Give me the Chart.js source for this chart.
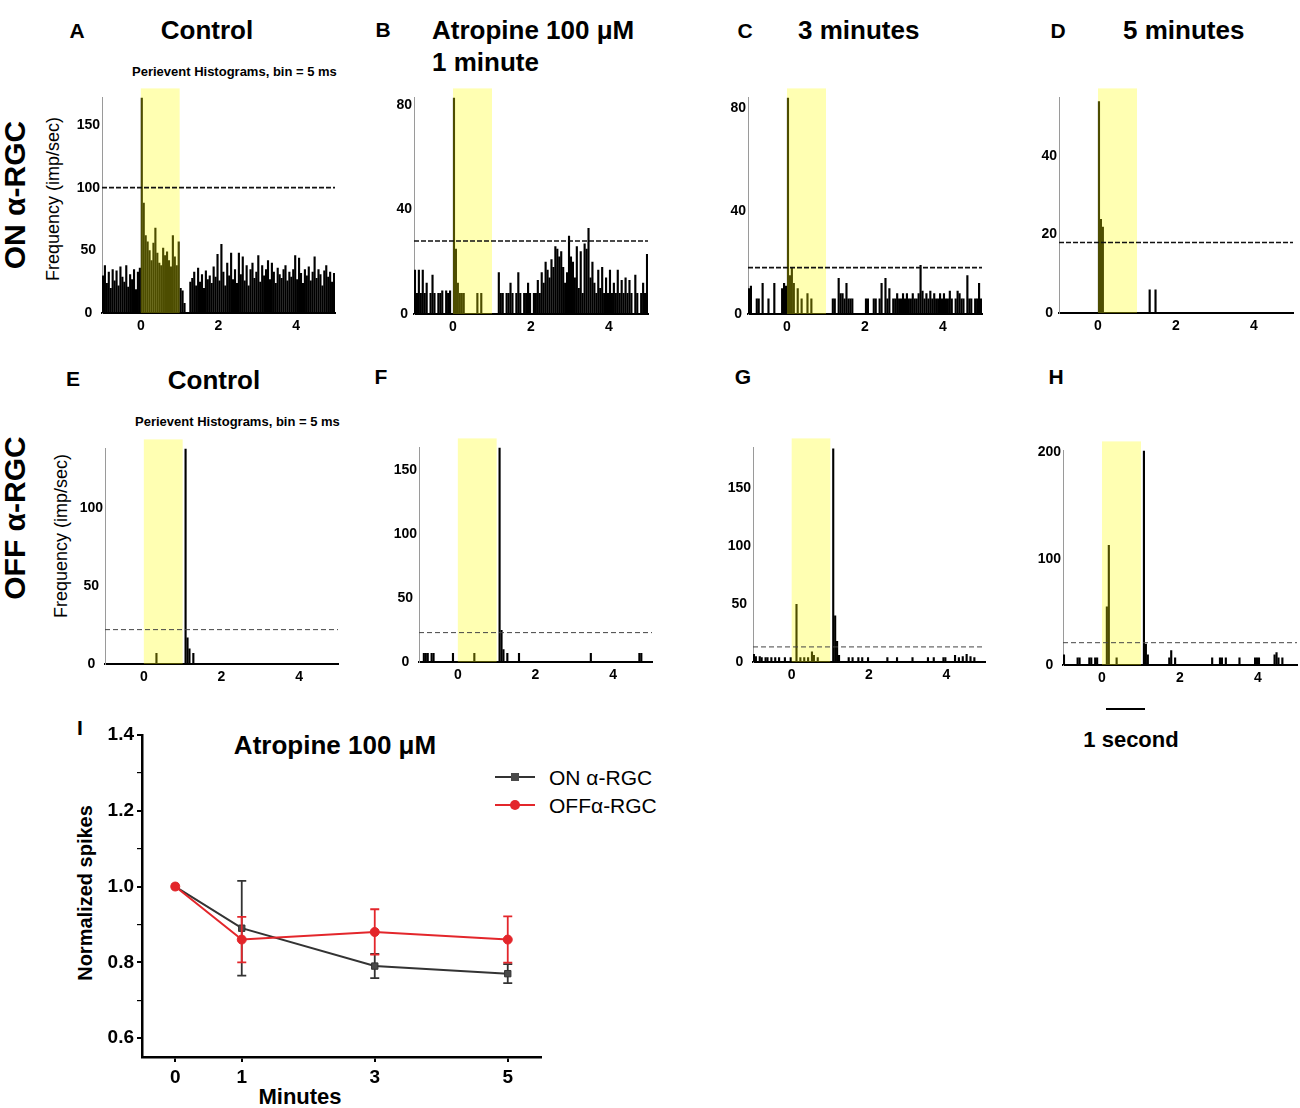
<!DOCTYPE html>
<html>
<head>
<meta charset="utf-8">
<script src="https://cdn.jsdelivr.net/npm/chart.js@4.4.1/dist/chart.umd.min.js"></script>
<style>
  body { margin: 0; background: #fff; font-family: 'Liberation Sans', Arial, Helvetica, sans-serif; }
  #page { position: relative; width: 1300px; height: 1108px; overflow: hidden; background: #fff; }
  canvas { position: absolute; }
  .t { position: absolute; white-space: nowrap; color: #000; line-height: 1; }
  .c { transform: translate(-50%, -50%); }
  .l { transform: translateY(-50%); }
  .v { transform: translate(-50%, -50%) rotate(-90deg); }
  .lab { font-weight: bold; font-size: 21px; }
  .ttl { font-weight: bold; font-size: 26px; }
  .sub { font-weight: bold; font-size: 13px; }
  .row { font-weight: bold; font-size: 30px; }
  .freq { font-size: 18px; }
  .leg { position: absolute; height: 2px; width: 40px; }
  .mk { position: absolute; }
</style>
</head>
<body>
<div id="page">
  <!-- top row titles -->
  <div class="t c lab" style="left:77px;top:30px">A</div>
  <div class="t c ttl" style="left:207px;top:30px">Control</div>
  <div class="t l sub" style="left:132px;top:71px">Perievent Histograms, bin = 5 ms</div>
  <div class="t c lab" style="left:383px;top:29px">B</div>
  <div class="t l ttl" style="left:432px;top:30px">Atropine 100 μM</div>
  <div class="t l ttl" style="left:432px;top:62px">1 minute</div>
  <div class="t c lab" style="left:745px;top:30px">C</div>
  <div class="t l ttl" style="left:798px;top:30px">3 minutes</div>
  <div class="t c lab" style="left:1058px;top:30px">D</div>
  <div class="t l ttl" style="left:1123px;top:30px">5 minutes</div>
  <div class="t v row" style="left:15px;top:195px">ON α-RGC</div>
  <div class="t v freq" style="left:53px;top:199px">Frequency (imp/sec)</div>

  <!-- bottom row titles -->
  <div class="t c lab" style="left:73px;top:378px">E</div>
  <div class="t c ttl" style="left:214px;top:380px">Control</div>
  <div class="t l sub" style="left:135px;top:421px">Perievent Histograms, bin = 5 ms</div>
  <div class="t c lab" style="left:381px;top:376px">F</div>
  <div class="t c lab" style="left:743px;top:376px">G</div>
  <div class="t c lab" style="left:1056px;top:376px">H</div>
  <div class="t v row" style="left:15px;top:518px">OFF α-RGC</div>
  <div class="t v freq" style="left:61px;top:536px">Frequency (imp/sec)</div>

  <!-- scale bar -->
  <div style="position:absolute;left:1106px;top:708px;width:39px;height:2px;background:#000"></div>
  <div class="t c" style="left:1131px;top:740px;font-weight:bold;font-size:22px">1 second</div>

  <!-- summary panel texts -->
  <div class="t c lab" style="left:80px;top:727px">I</div>
  <div class="t c ttl" style="left:335px;top:745px">Atropine 100 μM</div>
  <div class="t v" style="left:85px;top:893px;font-weight:bold;font-size:20px">Normalized spikes</div>
  <div class="t c" style="left:300px;top:1097px;font-weight:bold;font-size:22px">Minutes</div>
  <div class="leg" style="left:495px;top:776px;background:#333"></div>
  <div class="mk" style="left:511px;top:773px;width:8px;height:8px;background:#4a4a4a"></div>
  <div class="t l" style="left:549px;top:777px;font-size:21px">ON α-RGC</div>
  <div class="leg" style="left:495px;top:804px;background:#e3262b"></div>
  <div class="mk" style="left:510px;top:800px;width:10px;height:10px;border-radius:50%;background:#e3262b"></div>
  <div class="t l" style="left:549px;top:805px;font-size:21px">OFFα-RGC</div>
</div>

<script>
Chart.defaults.font.family = "'Liberation Sans', Arial, Helvetica, sans-serif";
Chart.defaults.color = '#000';

// histogram bins (seconds), counts
const binStart = -1;
const binWidth = 0.05;
const binCount = 120;
const timeTicks = [0, 2, 4];
const stimulusOn = 0;
const stimulusOff = 1;

// ON alpha-RGC: control, 1, 3 min atropine (one value per bin, from -1 s)
const onControl = [
  30, 38, 24, 33, 20, 35, 26, 34, 22, 37, 29, 25, 38, 21, 31, 27, 35, 19, 33, 36,
  172, 88, 62, 57, 50, 42, 56, 68, 48, 40, 38, 52, 46, 49, 42, 37, 62, 45, 38, 57,
  20, 18, 8, 0, 0, 25,
  28, 33, 22, 36, 25, 31, 20, 34, 27, 30,
  24, 37, 29, 47, 26, 55, 33, 22, 40, 30,
  48, 27, 35, 24, 48, 31, 45, 26, 38, 22,
  35, 40, 28, 33, 46, 25, 38, 30, 35, 42,
  27, 40, 33, 24, 36, 31, 28, 35, 38, 26,
  33, 29, 35, 46, 27, 44, 32, 24, 35, 30,
  37, 26, 33, 45, 28, 35, 31, 22, 34, 38,
  29, 33, 25, 32
];
const onMin1 = [
  17, 8, 17, 8, 17, 8, 12, 0, 8, 15, 8, 0, 8, 8, 9, 0, 9, 8, 9, 0,
  83, 25, 12, 8, 8, 8, 0, 0, 0, 0, 0, 0, 8, 0, 8, 0, 0, 0, 0, 0,
  0, 0, 0, 16, 8, 8, 0, 8, 8, 12,
  8, 0, 8, 16, 8, 0, 8, 8, 12, 8,
  0, 8, 8, 13, 8, 16, 12, 20, 17, 14,
  21, 18, 26, 25, 22, 24, 18, 12, 16, 30,
  22, 20, 14, 26, 10, 24, 8, 27, 25, 33,
  14, 20, 12, 8, 17, 10, 18, 8, 14, 8,
  17, 8, 12, 8, 17, 8, 13, 8, 14, 8,
  13, 8, 0, 15, 8, 0, 8, 12, 8, 23
];
const onMin3 = [
  10, 11, 0, 0, 6, 6, 0, 12, 0, 0, 6, 0, 0, 12, 0, 0, 0, 10, 12, 11,
  84, 15, 18, 12, 0, 10, 0, 6, 0, 0, 8, 0, 6, 0, 0, 0, 0, 0, 0, 0,
  0, 0, 0, 6, 6, 0, 14, 8, 8, 6,
  12, 6, 6, 6, 0, 0, 0, 0, 0, 0,
  6, 6, 0, 0, 6, 6, 0, 6, 12, 0,
  14, 6, 10, 0, 6, 6, 8, 6, 6, 8,
  6, 8, 6, 6, 8, 6, 6, 8, 19, 9,
  6, 8, 6, 9, 6, 8, 6, 6, 8, 6,
  8, 6, 6, 9, 6, 0, 6, 9, 8, 6,
  6, 0, 15, 6, 6, 0, 6, 6, 12, 6
];
// sparse panels: spike times (s) and heights (imp/sec)
const onMin5Times = [0.0, 0.05, 0.10, 1.32, 1.47];
const onMin5Values = [54, 24, 22, 6, 6];

const offControlTimes = [0.3, 1.06, 1.11, 1.16, 1.28];
const offControlValues = [7, 138, 17, 10, 7];
const offMin1Times = [-0.89, -0.82, -0.76, -0.69, -0.63, -0.14, 0.44, 1.06, 1.11, 1.16, 1.26, 1.56, 3.41, 4.68, 4.74];
const offMin1Values = [7, 7, 7, 7, 7, 7, 7, 168, 25, 10, 7, 7, 7, 7, 7];
const offMin3Times = [-0.98, -0.92, -0.85, -0.78, -0.7, -0.62, -0.52, -0.42, -0.35, -0.2,
  -0.05, 0.12, 0.22, 0.3, 0.42, 0.5, 0.55, 0.65, 1.06, 1.11,
  1.16, 1.22, 1.48, 1.55, 1.72, 1.83, 1.95, 2.45, 2.72, 3.12,
  3.52, 3.68, 3.92, 3.98, 4.22, 4.32, 4.42, 4.52, 4.6, 4.72];
const offMin3Values = [7, 5, 5, 4, 4, 4, 4, 4, 4, 4,
  4, 50, 4, 4, 4, 9, 6, 4, 184, 40,
  18, 6, 4, 4, 4, 4, 4, 4, 4, 4,
  4, 4, 4, 4, 6, 4, 5, 7, 5, 4];
const offMin5Times = [-0.96, -0.65, -0.58, -0.35, -0.28, -0.2, -0.13, 0.1, 0.15, 0.37,
  1.06, 1.11, 1.16, 1.7, 1.76, 1.87, 2.83, 3.02, 3.08, 3.17,
  3.53, 3.9, 3.96, 4.02, 4.42, 4.47, 4.52, 4.61];
const offMin5Values = [10, 7, 7, 7, 7, 7, 7, 55, 113, 7,
  202, 20, 10, 7, 14, 7, 7, 7, 7, 7,
  7, 7, 7, 7, 10, 12, 7, 7];

// axis ranges, tick labels and mean-rate thresholds per panel
const yMaxes = [172, 83, 84, 55, 138, 168, 185, 202];
const yTickSets = [[0, 50, 100, 150], [0, 40, 80], [0, 40, 80], [0, 20, 40],
  [0, 50, 100], [0, 50, 100, 150], [0, 50, 100, 150], [0, 100, 200]];
const thresholds = [100, 28, 18, 18, 22, 23, 13, 21];

// summary (panel I)
const minutes = [0, 1, 3, 5];
const minuteTicks = [0, 1, 3, 5];
const onMean = [1.0, 0.89, 0.79, 0.77];
const onSem = [0, 0.125, 0.032, 0.025];
const offMean = [1.0, 0.86, 0.88, 0.86];
const offSem = [0, 0.06, 0.06, 0.061];
const spikeTicks = [0.6, 0.7, 0.8, 0.9, 1.0, 1.1, 1.2, 1.3, 1.4];

function binned(times, values) {
    const out = new Array(binCount).fill(0);
    times.forEach((t, i) => {
        const k = Math.floor((t - binStart) / binWidth + 1e-6);
        out[k] = Math.max(out[k], values[i]);
    });
    return out;
}

const histCounts = [
    onControl, onMin1, onMin3, binned(onMin5Times, onMin5Values),
    binned(offControlTimes, offControlValues), binned(offMin1Times, offMin1Values),
    binned(offMin3Times, offMin3Values), binned(offMin5Times, offMin5Values)
];

// plot area of each panel on the page: [axis x, right x, top y, zero y]
const panelBoxes = [
    [102, 335, 97, 313], [414, 648, 97, 314], [748, 982, 97, 314], [1059, 1293, 97, 313],
    [105, 338, 448, 664], [419, 652, 447, 662], [753, 985, 447, 662], [1063, 1297, 450, 665]
];

const page = document.getElementById('page');
function addCanvas(left, top, width, height) {
    const c = document.createElement('canvas');
    c.width = width; c.height = height;
    c.style.left = left + 'px'; c.style.top = top + 'px';
    c.style.width = width + 'px'; c.style.height = height + 'px';
    page.appendChild(c);
    return c;
}

// yellow light-step window, drawn over the bars so they turn olive
const stimulusShade = {
    id: 'stimulusShade',
    afterDatasetDraw(chart, args) {
        if (args.index !== 0) return;
        const { ctx, chartArea, scales: { x } } = chart;
        const a = x.getPixelForValue(stimulusOn);
        const b = x.getPixelForValue(stimulusOff);
        ctx.save();
        ctx.fillStyle = 'rgba(255, 255, 0, 0.3)';
        ctx.fillRect(a, chartArea.top - 9, b - a, chartArea.bottom - chartArea.top + 9);
        ctx.restore();
    }
};

histCounts.forEach((counts, p) => {
    const [ax, rx, ty, zy] = panelBoxes[p];
    const topRow = p < 4;
    const canvas = addCanvas(ax - 40, ty - 10, rx - ax + 42, zy - ty + 35);
    const points = counts.map((v, i) => ({ x: binStart + (i + 0.5) * binWidth, y: v }));
    const yTicks = yTickSets[p];
    new Chart(canvas, {
        type: 'bar',
        data: {
            datasets: [
                {
                    type: 'bar',
                    data: points,
                    backgroundColor: '#000',
                    borderWidth: 0,
                    barPercentage: 1.1,
                    categoryPercentage: 1,
                    order: 2
                },
                {
                    type: 'line',
                    data: [{ x: binStart, y: thresholds[p] }, { x: 5, y: thresholds[p] }],
                    borderColor: topRow ? '#111' : '#444',
                    borderWidth: topRow ? 1.6 : 1,
                    borderDash: topRow ? [5, 2] : [5, 3],
                    pointRadius: 0,
                    order: 1
                }
            ]
        },
        options: {
            animation: false,
            responsive: false,
            layout: { padding: { top: 10, right: 2, left: 0, bottom: 0 } },
            plugins: { legend: { display: false }, tooltip: { enabled: false } },
            scales: {
                x: {
                    type: 'linear',
                    min: binStart,
                    max: 5,
                    offset: false,
                    grid: { display: false, drawTicks: false },
                    border: { color: '#000', width: 2 },
                    ticks: { font: { size: 14, weight: 'bold' }, padding: 5 },
                    afterBuildTicks: s => { s.ticks = timeTicks.map(v => ({ value: v })); },
                    afterFit: s => { s.height = 25; }
                },
                y: {
                    min: 0,
                    max: yMaxes[p],
                    grid: { display: false, drawTicks: false },
                    border: { color: '#9a9a9a', width: 1 },
                    ticks: { font: { size: 14, weight: 'bold' }, padding: 2, crossAlign: 'center' },
                    afterBuildTicks: s => { s.ticks = yTicks.map(v => ({ value: v })); },
                    afterFit: s => { s.width = 40; }
                }
            }
        },
        plugins: [stimulusShade]
    });
});

// error bars for panel I, drawn under each series' own line and markers
const errorBars = {
    id: 'errorBars',
    beforeDatasetDraw(chart, args) {
        const ds = chart.data.datasets[args.index];
        const { ctx, scales: { x, y } } = chart;
        ctx.save();
        ctx.strokeStyle = ds.borderColor;
        ctx.lineWidth = 1.8;
        ds.data.forEach((pt, i) => {
            const e = ds.errors[i];
            if (!e) return;
            const px = x.getPixelForValue(pt.x);
            const hi = y.getPixelForValue(pt.y + e);
            const lo = y.getPixelForValue(pt.y - e);
            ctx.beginPath();
            ctx.moveTo(px, hi); ctx.lineTo(px, lo);
            ctx.moveTo(px - 4.5, hi); ctx.lineTo(px + 4.5, hi);
            ctx.moveTo(px - 4.5, lo); ctx.lineTo(px + 4.5, lo);
            ctx.stroke();
        });
        ctx.restore();
    }
};

const summaryCanvas = addCanvas(60, 720, 490, 388);
new Chart(summaryCanvas, {
    type: 'line',
    data: {
        datasets: [
            {
                label: 'ON α-RGC',
                data: minutes.map((m, i) => ({ x: m, y: onMean[i] })),
                errors: onSem,
                borderColor: '#333',
                backgroundColor: '#4a4a4a',
                borderWidth: 2,
                pointStyle: 'rect',
                pointRadius: 4.5,
                pointBorderWidth: 1,
                order: 2
            },
            {
                label: 'OFFα-RGC',
                data: minutes.map((m, i) => ({ x: m, y: offMean[i] })),
                errors: offSem,
                borderColor: '#e3262b',
                backgroundColor: '#e3262b',
                borderWidth: 2,
                pointStyle: 'circle',
                pointRadius: 4.5,
                pointBorderWidth: 1,
                order: 1
            }
        ]
    },
    options: {
        animation: false,
        responsive: false,
        layout: { padding: { top: 15, right: 9, left: 0, bottom: 21 } },
        plugins: { legend: { display: false }, tooltip: { enabled: false } },
        scales: {
            x: {
                type: 'linear',
                min: -0.5,
                max: 5.5,
                grid: { drawOnChartArea: false, drawTicks: true, tickLength: 5, color: '#000', lineWidth: 2 },
                border: { color: '#000', width: 2.5 },
                ticks: { font: { size: 19, weight: 'bold' }, padding: 4 },
                afterBuildTicks: s => { s.ticks = minuteTicks.map(v => ({ value: v })); },
                afterFit: s => { s.height = 30; }
            },
            y: {
                min: 0.55,
                max: 1.4,
                grid: {
                    drawOnChartArea: false, drawTicks: true, tickLength: 5, color: '#000',
                    lineWidth: c => (Math.round(c.tick.value * 10) % 2 === 0 ? 2 : 1.2)
                },
                border: { color: '#000', width: 2.5 },
                ticks: {
                    font: { size: 19, weight: 'bold' },
                    padding: 3,
                    callback: v => (Math.round(v * 10) % 2 === 0 ? v.toFixed(1) : '')
                },
                afterBuildTicks: s => { s.ticks = spikeTicks.map(v => ({ value: v })); },
                afterFit: s => { s.width = 82; }
            }
        }
    },
    plugins: [errorBars]
});
</script>
</body>
</html>
